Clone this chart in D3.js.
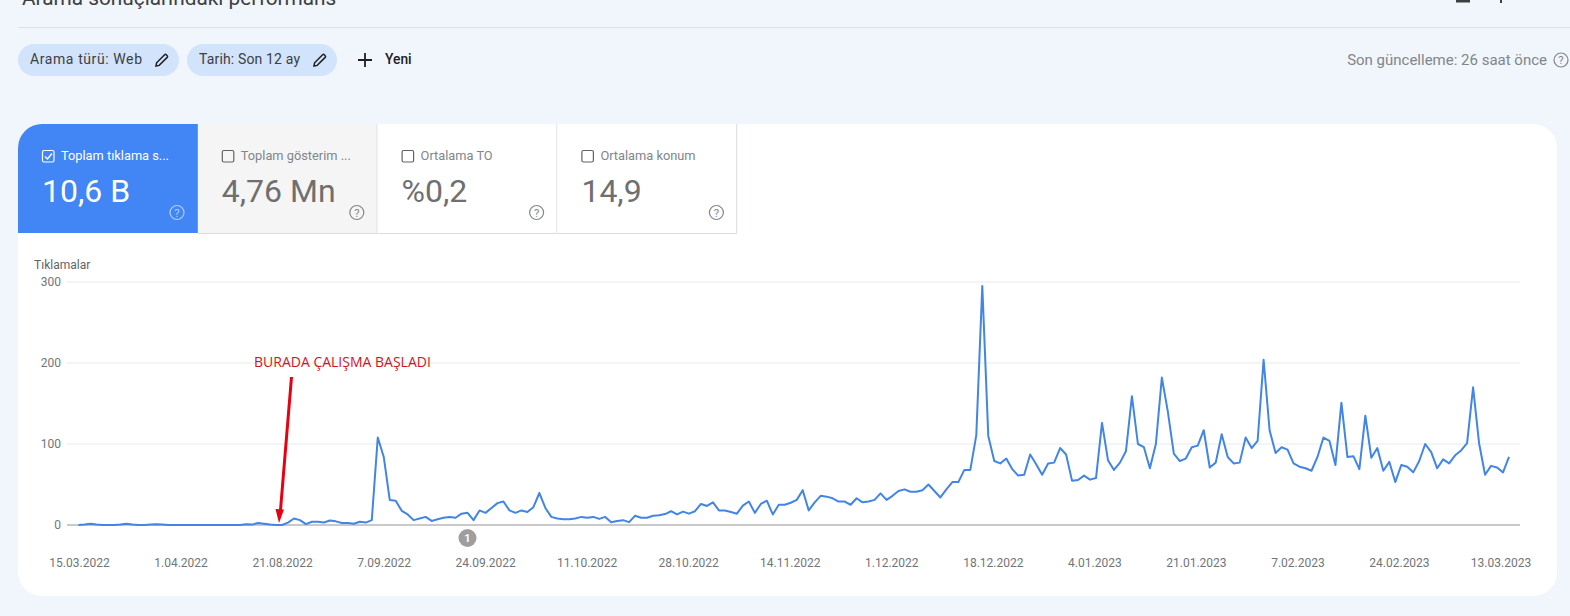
<!DOCTYPE html>
<html lang="tr">
<head>
<meta charset="utf-8">
<title>Arama sonuçlarındaki performans</title>
<script src="https://cdn.jsdelivr.net/npm/d3@7"></script>
<style>
  html, body { margin: 0; padding: 0; background: #f1f5fc; overflow: hidden; }
  text { font-family: Roboto, sans-serif; }
</style>
</head>
<body>
<script>
// Daily clicks (one value per day shown)
const clicks = [
    0, 0.5, 1.5, 0.5, 0, 0, 0, 0.5, 1.5, 0.5, 0, 0, 0.5, 1, 0.5, 0, 0,
    0, 0, 0, 0, 0, 0, 0, 0, 0, 0, 0, 1, 0.5, 2.5, 1.5, 0.5, 0,
    0, 3, 8, 6, 1, 4, 4, 3, 5.5, 4.5, 2.5, 2.5, 1.5, 4, 3, 6,
    108, 84, 31, 30, 17.5, 13, 6, 8, 10, 5, 7, 9, 10, 9, 14, 15, 6, 18, 15, 21,
    27, 29, 18, 15, 18, 16, 22, 39.5, 21, 10, 8, 7, 7, 8, 10, 9, 10, 7.5, 10, 3.5,
    5, 6, 3.5, 11.5, 9, 9, 11.5, 12, 13.5, 17, 13, 16.5, 14, 17, 26, 23.5, 28, 18, 18, 16,
    14, 24, 29, 15, 26, 30, 13, 25, 25, 27.5, 31, 43, 18, 28, 36, 35, 33, 29, 29, 25,
    33, 28, 29, 31, 39, 31, 36, 42, 44, 41, 41, 43, 50, 42, 34, 44, 53, 53, 68, 68,
    111, 295, 110, 79, 76, 82, 69, 61, 62, 87, 75, 62, 76, 77, 95, 87, 54.5, 55.5, 61, 56,
    58, 126, 80, 68, 77, 91, 159, 100, 96, 70, 100, 182, 140, 88, 79, 82, 96, 98, 117, 71,
    77, 112, 84, 76, 77, 108, 95, 104, 204, 117, 89, 96, 93, 76, 72, 70, 67, 84, 108, 104,
    74, 151, 84, 85, 69, 135, 83, 95, 67, 78, 53, 74, 72, 65, 79, 100, 90, 70, 81, 76,
    86, 92, 101, 170, 101, 62, 73, 71, 65, 84
];
const dateLabels = ["15.03.2022", "1.04.2022", "21.08.2022", "7.09.2022", "24.09.2022",
    "11.10.2022", "28.10.2022", "14.11.2022", "1.12.2022", "18.12.2022",
    "4.01.2023", "21.01.2023", "7.02.2023", "24.02.2023", "13.03.2023"];
const yTicks = [0, 100, 200, 300];
const tabLabels = ["Toplam tıklama s...", "Toplam gösterim ...", "Ortalama TO", "Ortalama konum"];
const tabValues = ["10,6 B", "4,76 Mn", "%0,2", "14,9"];
const filterLabels = ["Arama türü: Web", "Tarih: Son 12 ay"];

const width = 1570;
const height = 616;
const labelEvery = 17; // one date label every 17 days

const svg = d3.select("body").append("svg")
    .attr("width", width)
    .attr("height", height)
    .style("display", "block");

const pencil = "M1 13l.6-3.2 8-8c.5-.5 1.2-.5 1.7 0l.9.9c.5.5.5 1.2 0 1.7l-8 8z";

function helpIcon(g, x, y, color, r) {
    g.append("circle").attr("cx", x).attr("cy", y).attr("r", r)
        .attr("fill", "none").attr("stroke", color).attr("stroke-width", 1.2);
    g.append("text").attr("x", x).attr("y", y + r * 0.58)
        .attr("text-anchor", "middle").attr("font-size", r * 1.6)
        .attr("fill", color).text("?");
}

// page header, cut off by the top of the screenshot
svg.append("text").attr("x", 22).attr("y", 4.5)
    .attr("font-size", 20.8).attr("fill", "#3c4043")
    .text("Arama sonuçlarındaki performans");
svg.append("line").attr("x1", 18).attr("x2", width).attr("y1", 27.5).attr("y2", 27.5)
    .attr("stroke", "#dfe1e5");
svg.append("rect").attr("x", 1456).attr("y", 0).attr("width", 14).attr("height", 2.5).attr("fill", "#3c4043");
svg.append("rect").attr("x", 1500).attr("y", 0).attr("width", 2).attr("height", 3).attr("fill", "#3c4043");

// filter chips
const chipX = [18, 187];
const chipW = [161, 150];
const chipTextW = [112, 101];
filterLabels.forEach((label, i) => {
    const chip = svg.append("g").attr("transform", `translate(${chipX[i]},44)`);
    chip.append("rect").attr("width", chipW[i]).attr("height", 32).attr("rx", 16).attr("fill", "#d2e3fc");
    chip.append("text").attr("x", 12).attr("y", 20).attr("font-size", 14)
        .attr("fill", "#3c4043").attr("textLength", chipTextW[i]).text(label);
    chip.append("path").attr("d", pencil)
        .attr("transform", `translate(${chipW[i] - 24},9)`)
        .attr("fill", "none").attr("stroke", "#202124").attr("stroke-width", 1.5);
});
svg.append("path").attr("d", "M358 60h14M365 53v14")
    .attr("stroke", "#202124").attr("stroke-width", 1.8).attr("fill", "none");
svg.append("text").attr("x", 385).attr("y", 64).attr("font-size", 13.8)
    .attr("font-weight", 500).attr("fill", "#202124").text("Yeni");

svg.append("text").attr("x", 1547).attr("y", 65).attr("text-anchor", "end")
    .attr("font-size", 15).attr("fill", "#80868b").text("Son güncelleme: 26 saat önce");
helpIcon(svg, 1561, 60, "#80868b", 7);

// card
svg.append("rect").attr("x", 18).attr("y", 124).attr("width", 1539).attr("height", 472)
    .attr("rx", 24).attr("fill", "#fff");

// metric tabs
const tabW = 179.8;
const tabs = svg.selectAll("g.tab").data(tabLabels).enter().append("g")
    .attr("class", "tab")
    .attr("transform", (d, i) => `translate(${18 + i * tabW},124)`);

tabs.append("path")
    .attr("d", (d, i) => i === 0
        ? `M0 109V24A24 24 0 0 1 24 0H${tabW + 0.5}V109Z`
        : `M0 0H${tabW}V109H0Z`)
    .attr("fill", (d, i) => i === 0 ? "#4285f4" : i === 1 ? "#f5f5f5" : "#fff");
tabs.filter((d, i) => i > 0).append("path")
    .attr("d", `M${tabW - 0.5} 0V109.5H0`)
    .attr("fill", "none").attr("stroke", "#dadce0");

tabs.append("rect").attr("x", 24.5).attr("y", 26.5).attr("width", 11.5).attr("height", 11.5).attr("rx", 1.5)
    .attr("fill", "none")
    .attr("stroke", (d, i) => i === 0 ? "#fff" : "#5f6368").attr("stroke-width", 1.2);
tabs.filter((d, i) => i === 0).append("path").attr("d", "M27 32.5l2.5 2.5 4.5-5.5")
    .attr("fill", "none").attr("stroke", "#fff").attr("stroke-width", 1.4);
tabs.append("text").attr("x", 43).attr("y", 36).attr("font-size", 12.8)
    .attr("fill", (d, i) => i === 0 ? "#fff" : "#80868b")
    .text(d => d);
tabs.append("text").attr("x", 24).attr("y", 78).attr("font-size", 32)
    .attr("fill", (d, i) => i === 0 ? "#fff" : "#6f6f6f")
    .text((d, i) => tabValues[i]);
tabs.each(function (d, i) {
    helpIcon(d3.select(this), 159, 88.5, i === 0 ? "#b3cefb" : "#80868b", 7);
});

// chart scales
const x = d3.scaleLinear().domain([0, clicks.length - 1]).range([78.5, 1509]);
const y = d3.scaleLinear().domain([0, 300]).range([525, 282]);
const labelX = d3.scaleLinear().domain([0, 238]).range([79, 1500.5]);

// horizontal grid and y labels
const yAxis = svg.append("g").attr("transform", "translate(67,0)")
    .call(d3.axisLeft(y).offset(0).tickValues(yTicks).tickSize(-1453).tickPadding(6));
yAxis.select(".domain").remove();
yAxis.selectAll("line").attr("stroke", "#e8eaed");
yAxis.selectAll("text").attr("font-size", 12).attr("fill", "#70757a")
    .style("font-family", "Roboto, sans-serif");

// x axis, labels only
const xAxis = svg.append("g").attr("transform", "translate(0,525)")
    .call(d3.axisBottom(labelX)
        .tickValues(dateLabels.map((d, i) => i * labelEvery))
        .tickFormat((d, i) => dateLabels[i])
        .tickSize(0).tickPadding(33));
xAxis.select(".domain").remove();
xAxis.selectAll("text").attr("font-size", 12).attr("fill", "#70757a")
    .style("font-family", "Roboto, sans-serif");

svg.append("line").attr("x1", 67).attr("x2", 1520).attr("y1", y(0)).attr("y2", y(0))
    .attr("stroke", "#9e9e9e");

svg.append("text").attr("x", 34).attr("y", 268.5).attr("font-size", 12).attr("fill", "#5f6368")
    .text("Tıklamalar");

// clicks line
const line = d3.line().x((d, i) => x(i)).y(d => y(d));
svg.append("path").datum(clicks)
    .attr("d", line)
    .attr("fill", "none")
    .attr("stroke", "#4285e4")
    .attr("stroke-width", 2)
    .attr("stroke-linejoin", "round");

// annotation marker
svg.append("circle").attr("cx", 467.5).attr("cy", 538).attr("r", 9).attr("fill", "#9e9e9e");
svg.append("text").attr("x", 467.5).attr("y", 542).attr("text-anchor", "middle")
    .attr("font-size", 11).attr("font-weight", 700).attr("fill", "#fff").text("1");

// hand drawn note
svg.append("text").attr("x", 254).attr("y", 367).attr("font-size", 14)
    .style("font-family", "'Open Sans', sans-serif")
    .attr("fill", "#d2141c").text("BURADA ÇALIŞMA BAŞLADI");
svg.append("line").attr("x1", 291.5).attr("y1", 377).attr("x2", 280.5).attr("y2", 510)
    .attr("stroke", "#e60012").attr("stroke-width", 3);
svg.append("path").attr("d", "M275.5 509L284 509.5L279 523Z").attr("fill", "#e60012");
</script>
</body>
</html>
